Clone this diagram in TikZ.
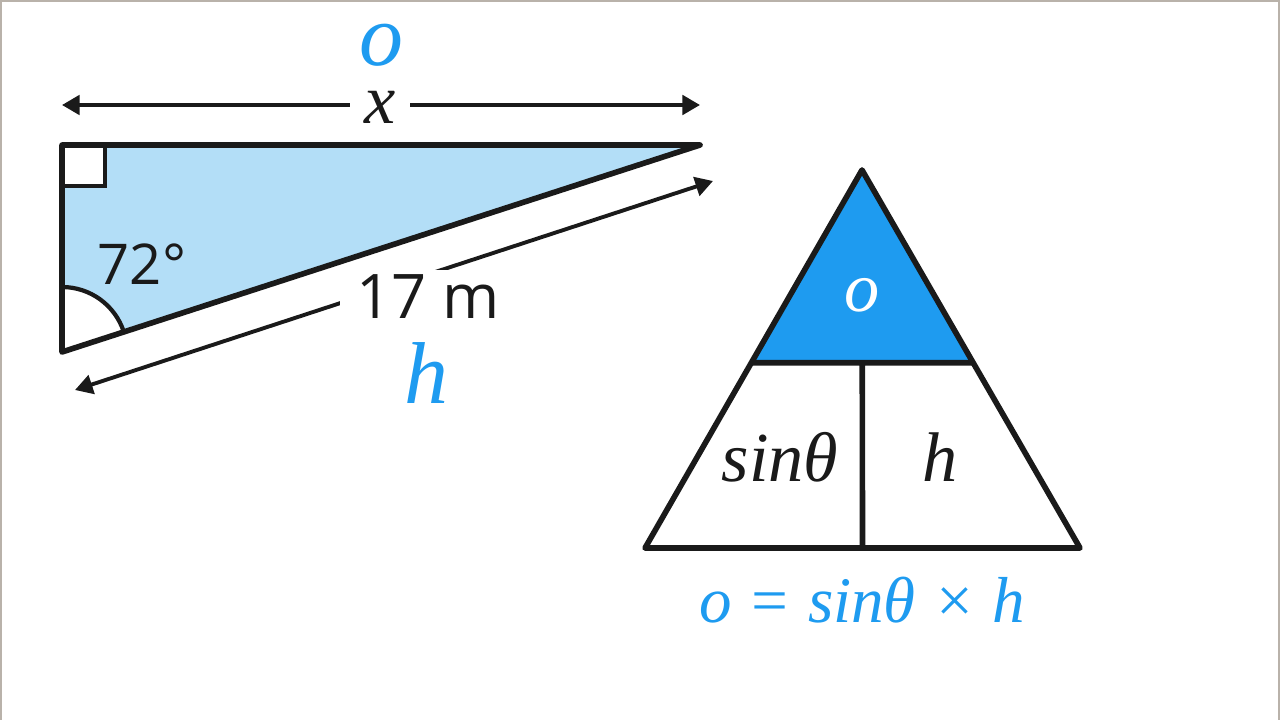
\documentclass[tikz,border=0pt]{standalone}
\usepackage{fontspec}
\newfontfamily\labelsans{Open Sans}
\newfontfamily\varserif{Liberation Serif}
\usetikzlibrary{arrows.meta, calc}
\definecolor{paleblue}{HTML}{B3DEF7}
\definecolor{midblue}{HTML}{1E9BF0}
\definecolor{framegrey}{HTML}{B9B2AA}
\definecolor{ink}{HTML}{1A1A1A}

\begin{document}
\begin{tikzpicture}[x = 0.02cm, y = -0.02cm,
    edge/.style = {line width = 3.2pt, line join = round, draw = ink},
    thin edge/.style = {line width = 2.4pt, draw = ink},
    dimline/.style = {line width = 2.2pt, draw = ink,
        {Triangle[length = 10pt, width = 11pt]}-{Triangle[length = 10pt, width = 11pt]}},
    letter/.style = {inner sep = 0pt, text = ink, font = \fontsize{40}{48}\selectfont\varserif\itshape},
    big letter/.style = {letter, text = midblue, font = \fontsize{50}{60}\selectfont\varserif\itshape},
    measure/.style = {inner sep = 0pt, text = ink, font = \fontsize{35}{42}\selectfont\labelsans}]
    \useasboundingbox (0, 0) rectangle (1280, 720);
    \fill[white] (0, 0) rectangle (1280, 720);
    \draw[framegrey, line width = 2.5pt] (0, 720) -- (0, 0) -- (1280, 0) -- (1280, 720);

    \coordinate (A) at (62, 145);
    \coordinate (B) at (700, 145);
    \coordinate (C) at (62, 352);
    \fill[paleblue] (A) -- (B) -- (C) -- cycle;
    \fill[white] (C) -- ++(-90:65) arc[start angle = -90, end angle = -18, radius = 65] -- cycle;
    \draw[thin edge] (C) ++(-90:65) arc[start angle = -90, end angle = -18, radius = 65];
    \filldraw[fill = white, thin edge] (A) rectangle ++(43, 41);
    \draw[edge] (A) -- (B) -- (C) -- cycle;

    \coordinate (xl) at (62, 105);
    \coordinate (xr) at (700, 105);
    \draw[dimline] (xl) -- (xr);
    \node[letter, fill = white, inner xsep = 8pt] (x lbl) at (380, 107) {x};
    \node[big letter] (o lbl) at (381, 45) {o};

    \node[measure, font = \fontsize{32}{38}\selectfont\labelsans] (angle) at (142, 264) {72°};

    \coordinate (hl) at (75, 390);
    \coordinate (hr) at (713, 181);
    \draw[dimline] (hl) -- (hr);
    \node[measure, fill = white, inner xsep = 9pt, inner ysep = 3pt] (len) at (428, 297) {17 m};
    \node[big letter] (h lbl) at (426, 373) {h};

    \coordinate (T) at (862, 170);
    \coordinate (L) at (645, 548);
    \coordinate (R) at (1080, 548);
    \coordinate (ML) at ($(T)!0.51!(L)$);
    \coordinate (MR) at ($(T)!0.51!(R)$);
    \coordinate (MM) at ($(ML)!0.5!(MR)$);
    \coordinate (MB) at ($(L)!0.5!(R)$);
    \fill[midblue] (T) -- (ML) -- (MR) -- cycle;
    \draw[edge] (ML) -- (MR) (MM) -- (MB);
    \draw[edge] (T) -- (L) -- (R) -- cycle;

    \node[letter, text = white] (top) at (862, 295) {o};
    \node[letter] (sin) at (780, 457) {sinθ};
    \node[letter] (hyp) at (940, 457) {h};
    \node[letter, text = midblue, font = \fontsize{37}{44}\selectfont\varserif\itshape] (rule) at (862, 600) {o = sinθ × h};
\end{tikzpicture}
\end{document}
